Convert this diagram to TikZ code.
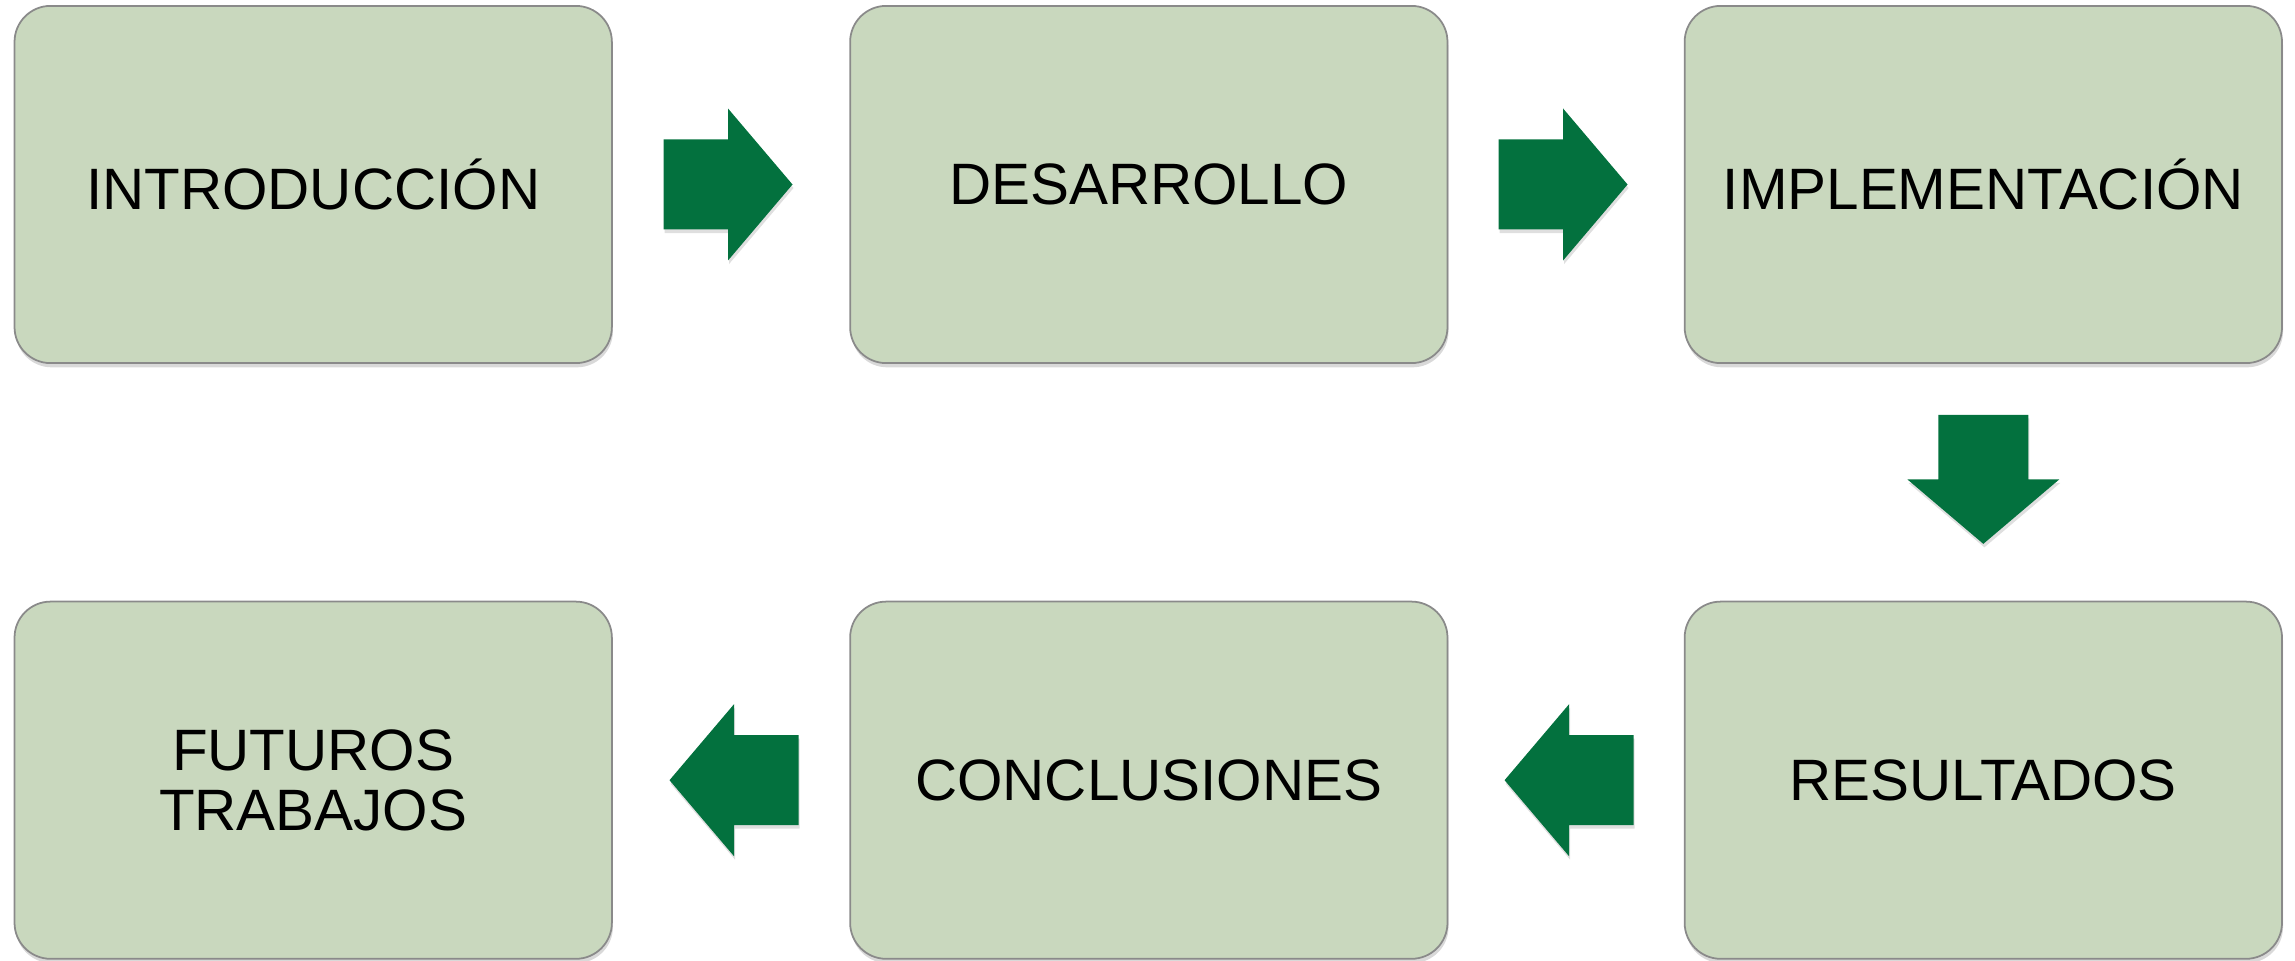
\documentclass[tikz,border=0pt]{standalone}
\usepackage{fontspec}
\setmainfont{Liberation Sans}
\usetikzlibrary{shadows,calc}
\definecolor{boxfill}{RGB}{201,216,190}
\definecolor{boxline}{RGB}{138,138,138}
\definecolor{arrowgreen}{RGB}{3,113,62}
\begin{document}
\begin{tikzpicture}[x=0.01cm,y=0.01cm,
  stagebox/.style={draw=boxline, line width=0.5pt, fill=boxfill,
    rounded corners=0.36cm, minimum width=5.97cm, minimum height=3.57cm,
    align=center, text=black, font=\fontsize{16.6}{17}\selectfont,
    drop shadow={shadow xshift=0.3pt, shadow yshift=-1.2pt, opacity=0.3}},
  flowarrow/.style={fill=arrowgreen,
    drop shadow={shadow xshift=0.3pt, shadow yshift=-1pt, opacity=0.25}},
  blockarrow/.pic={\fill[flowarrow] (-64.5,-45) -- (0,-45) -- (0,-76) -- (64.5,0)
      -- (0,76) -- (0,45) -- (-64.5,45) -- cycle;}]
\useasboundingbox (0,0) rectangle (2295,960);
\node[stagebox] (intro) at (313.2,775.5) {INTRODUCCIÓN};
\node[stagebox] (desa)  at (1148.8,775.5) {DESARROLLO};
\node[stagebox] (impl)  at (1983.3,775.5) {IMPLEMENTACIÓN};
\node[stagebox] (resu)  at (1983.3,179.8) {RESULTADOS};
\node[stagebox] (conc)  at (1148.8,179.8) {CONCLUSIONES};
\node[stagebox] (futu)  at (313.2,179.8) {FUTUROS\\TRABAJOS};
\coordinate (a1) at ($(intro.east)!0.5!(desa.west)$);
\coordinate (a2) at ($(desa.east)!0.5!(impl.west)$);
\coordinate (a3) at ($(impl.south)!0.5!(resu.north)$);
\coordinate (a4) at ($(resu.west)!0.5!(conc.east)$);
\coordinate (a5) at ($(conc.west)!0.5!(futu.east)$);
\pic at ([xshift=-0.03cm]a1) {blockarrow};
\pic at ([xshift=-0.03cm]a2) {blockarrow};
\pic[rotate=-90] at ([yshift=0.03cm]a3) {blockarrow};
\pic[rotate=180] at ([xshift=0.03cm]a4) {blockarrow};
\pic[rotate=180] at ([xshift=0.03cm]a5) {blockarrow};
\end{tikzpicture}
\end{document}
